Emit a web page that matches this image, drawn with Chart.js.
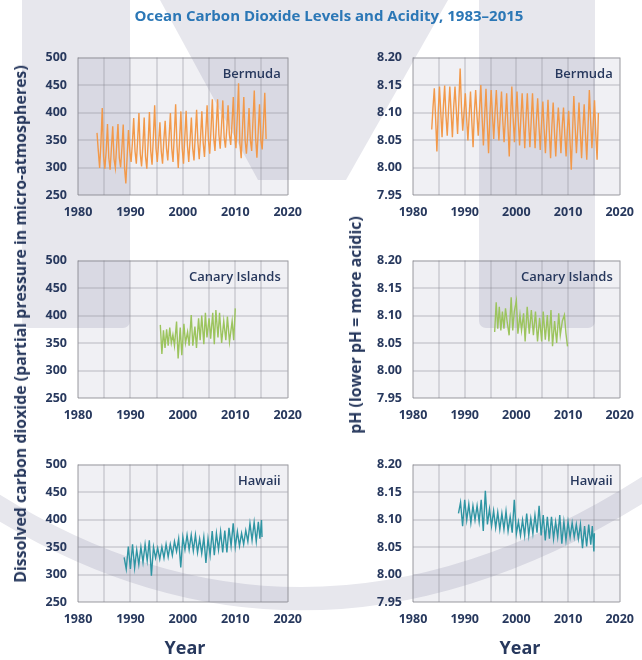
<!doctype html>
<html>

<head>
    <title>Ocean Carbon Dioxide Levels and Acidity, 1983–2015</title>
    <script src="https://cdn.jsdelivr.net/npm/chart.js"></script>
    <style>
        body { margin: 0; width: 642px; height: 660px; position: relative; overflow: hidden; background: #fff; font-family: "Open Sans", sans-serif; }
        canvas { position: absolute; }
        .txt { position: absolute; color: #27385d; font-weight: 700; white-space: nowrap; transform: translate(-50%, -50%); }
        .vert { transform: translate(-50%, -50%) rotate(-90deg); }
    </style>
</head>

<body>
    <canvas id="marca" width="642" height="660" style="left:0; top:0"></canvas>

    <div class="txt" style="left:329px; top:15px; color:#2b77b6; font-size:15px">Ocean Carbon Dioxide Levels and Acidity, 1983–2015</div>
    <div class="txt vert" style="left:20px; top:324px; font-size:15.9px">Dissolved carbon dioxide (partial pressure in micro-atmospheres)</div>
    <div class="txt vert" style="left:355px; top:325px; font-size:15.9px">pH (lower pH = more acidic)</div>
    <div class="txt" style="left:185px; top:647px; font-size:18px">Year</div>
    <div class="txt" style="left:520px; top:647px; font-size:18px">Year</div>

    <script>
        // ticks
        var xTicks = [1980, 1990, 2000, 2010, 2020];
        var co2Ticks = [250, 300, 350, 400, 450, 500];
        var phTicks = ['7.95', '8.00', '8.05', '8.10', '8.15', '8.20'];

        // Bermuda: quarterly samples (Feb, May, Aug, Nov) from Aug 1983
        var bermudaStart = 1983.625;
        var bermudaCO2 = [
            363, 330,
            299, 345, 408, 320,  298, 330, 379, 318,  296, 335, 375, 315,  299, 340, 379, 318,
            300, 335, 378, 300,  271, 320, 368, 330,  310, 345, 390, 330,  307, 350, 399, 325,
            302, 340, 391, 320,  298, 345, 401, 330,  305, 355, 413, 335,  310, 345, 382, 330,
            307, 350, 385, 335,  313, 355, 399, 335,  310, 360, 415, 340,  299, 350, 402, 335,
            307, 355, 403, 340,  310, 350, 391, 335,  313, 360, 405, 345,  315, 355, 402, 345,
            319, 365, 413, 350,  325, 370, 424, 355,  330, 375, 424, 360,  334, 375, 422, 355,
            336, 370, 413, 360,  341, 380, 428, 360,  335, 390, 453, 345,  317, 370, 428, 350,
            325, 360, 408, 350,  330, 385, 440, 355,  318, 365, 415, 350,  333, 380, 436, 352
        ];
        var bermudaPH = [
            8.069, 8.110,
            8.144, 8.090, 8.029, 8.100,  8.147, 8.100, 8.055, 8.110,  8.149, 8.095, 8.058, 8.105,  8.147, 8.100, 8.055, 8.110,
            8.147, 8.105, 8.061, 8.120,  8.180, 8.110, 8.067, 8.100,  8.135, 8.090, 8.049, 8.095,  8.138, 8.085, 8.037, 8.100,
            8.141, 8.095, 8.058, 8.105,  8.150, 8.090, 8.040, 8.095,  8.143, 8.080, 8.026, 8.095,  8.141, 8.095, 8.052, 8.100,
            8.141, 8.090, 8.049, 8.095,  8.138, 8.085, 8.046, 8.090,  8.135, 8.075, 8.020, 8.090,  8.147, 8.090, 8.046, 8.095,
            8.138, 8.085, 8.040, 8.090,  8.135, 8.085, 8.035, 8.090,  8.135, 8.080, 8.037, 8.085,  8.135, 8.080, 8.035, 8.085,
            8.126, 8.075, 8.032, 8.080,  8.120, 8.070, 8.026, 8.075,  8.123, 8.065, 8.017, 8.075,  8.118, 8.065, 8.020, 8.070,
            8.109, 8.070, 8.026, 8.075,  8.109, 8.060, 8.020, 8.070,  8.103, 8.050, 7.996, 8.065,  8.130, 8.075, 8.026, 8.070,
            8.118, 8.065, 8.017, 8.070,  8.115, 8.060, 8.014, 8.075,  8.141, 8.085, 8.035, 8.080,  8.122, 8.060, 8.014, 8.099
        ];
        var bermudaYears = bermudaCO2.map((v, i) => bermudaStart + i * 0.25);

        // Canary Islands
        var canaryCO2Years = [1995.7, 1996.0, 1996.3, 1996.6, 1996.9, 1997.2, 1997.5, 1997.8, 1998.1, 1998.4, 1998.8, 1999.1, 1999.5, 1999.8,
            2000.2, 2000.5, 2000.9, 2001.2, 2001.6, 2001.9, 2002.3, 2002.6, 2003.0, 2003.3, 2003.6, 2004.0, 2004.3, 2004.6,
            2005.0, 2005.3, 2005.7, 2006.0, 2006.3, 2006.7, 2007.0, 2007.4, 2007.8, 2008.2, 2008.5, 2008.9, 2009.4, 2009.7, 2010.0];
        var canaryCO2 = [383, 330, 373, 341, 375, 345, 378, 350, 365, 345, 389, 322, 378, 328,
            385, 350, 370, 345, 401, 345, 380, 341, 395, 355, 400, 348, 405, 360,
            395, 358, 405, 348, 410, 360, 405, 350, 390, 355, 398, 352, 390, 355, 413];
        var canaryPHYears = [1995.8, 1996.1, 1996.4, 1996.7, 1997.0, 1997.3, 1997.6, 1997.9, 1998.2, 1998.6, 1999.0, 1999.3, 1999.6,
            2000.0, 2000.3, 2000.7, 2001.0, 2001.4, 2001.7, 2002.1, 2002.5, 2002.9, 2003.3, 2003.7, 2004.1, 2004.5, 2004.9,
            2005.2, 2005.6, 2006.0, 2006.3, 2006.7, 2007.0, 2007.4, 2007.8, 2008.2, 2008.5, 2008.9, 2009.3, 2009.6, 2009.9];
        var canaryPH = [8.070, 8.124, 8.076, 8.116, 8.073, 8.107, 8.076, 8.113, 8.090, 8.064, 8.133, 8.073, 8.107,
            8.127, 8.067, 8.101, 8.073, 8.104, 8.053, 8.116, 8.067, 8.110, 8.064, 8.107, 8.053, 8.096, 8.053,
            8.107, 8.056, 8.101, 8.053, 8.110, 8.044, 8.090, 8.050, 8.104, 8.064, 8.090, 8.101, 8.067, 8.044];

        // Hawaii
        var hawaiiYears = [1988.8, 1989.2, 1989.6, 1990.0, 1990.4, 1990.8, 1991.2, 1991.6, 1992.0, 1992.4, 1992.8, 1993.2, 1993.6,
            1994.0, 1994.4, 1994.8, 1995.2, 1995.6, 1996.0, 1996.4, 1996.8, 1997.2, 1997.6, 1998.0, 1998.4, 1998.8,
            1999.2, 1999.6, 2000.0, 2000.4, 2000.8, 2001.2, 2001.6, 2002.0, 2002.4, 2002.8, 2003.2, 2003.6, 2004.0,
            2004.4, 2004.8, 2005.2, 2005.6, 2006.0, 2006.4, 2006.8, 2007.2, 2007.6, 2008.0, 2008.4, 2008.8, 2009.2,
            2009.6, 2010.0, 2010.4, 2010.8, 2011.2, 2011.6, 2012.0, 2012.4, 2012.8, 2013.2, 2013.6, 2014.0, 2014.4,
            2014.7, 2015.0, 2015.1];
        var hawaiiCO2 = [331, 310, 351, 310, 355, 312, 345, 318, 350, 322, 355, 325, 362,
            298, 350, 330, 348, 328, 350, 330, 355, 332, 355, 335, 360, 342,
            365, 313, 368, 345, 372, 345, 372, 343, 372, 340, 365, 338, 368,
            321, 365, 335, 379, 335, 375, 345, 378, 340, 380, 340, 385, 352,
            393, 350, 378, 352, 375, 355, 380, 360, 393, 362, 395, 360, 396,
            365, 399, 368];
        var hawaiiPH = [8.111, 8.131, 8.088, 8.136, 8.099, 8.128, 8.094, 8.125, 8.099, 8.125, 8.096, 8.136, 8.079,
            8.152, 8.091, 8.119, 8.088, 8.116, 8.085, 8.113, 8.082, 8.111, 8.082, 8.115, 8.079, 8.105,
            8.076, 8.136, 8.074, 8.096, 8.071, 8.099, 8.071, 8.111, 8.071, 8.102, 8.074, 8.108, 8.076,
            8.125, 8.071, 8.108, 8.062, 8.105, 8.065, 8.105, 8.065, 8.096, 8.068, 8.108, 8.056, 8.096,
            8.062, 8.096, 8.068, 8.094, 8.068, 8.091, 8.065, 8.091, 8.048, 8.088, 8.051, 8.091, 8.054,
            8.088, 8.042, 8.075];

        // watermark behind everything
        var g = document.getElementById('marca').getContext('2d');
        g.fillStyle = '#e7e7ed';
        g.beginPath(); g.roundRect(22, -10, 108, 338, 7); g.fill();
        g.beginPath(); g.roundRect(479, -10, 116, 338, 7); g.fill();
        g.beginPath();
        g.moveTo(160, 0); g.lineTo(448, 0); g.lineTo(346, 180); g.lineTo(258, 180);
        g.closePath(); g.fill();
        g.strokeStyle = '#e7e7ed';
        g.lineWidth = 23;
        g.beginPath(); g.moveTo(-10, 502); g.quadraticCurveTo(310, 704, 652, 484); g.stroke();

        var navy = '#27385d';
        Chart.defaults.font.family = '"Open Sans", sans-serif';

        var painelPlugin = {
            id: 'painel',
            beforeDraw(chart) {
                var a = chart.chartArea, ctx = chart.ctx;
                ctx.save();
                ctx.fillStyle = 'rgba(70,60,120,0.08)';
                ctx.fillRect(a.left, a.top, a.width, a.height);
                ctx.restore();
            },
            afterDraw(chart) {
                var a = chart.chartArea, ctx = chart.ctx;
                ctx.save();
                ctx.font = '600 13px "Open Sans"';
                ctx.fillStyle = navy;
                ctx.textAlign = 'right';
                ctx.fillText(chart.options.plugins.painel.local, a.right - 7, a.top + 20);
                ctx.restore();
            }
        };

        function grade(c) {
            var last = c.scale.ticks.length - 1;
            return (c.index === 0 || c.index === last) ? 'rgba(120,120,130,0.38)' : 'rgba(140,140,150,0.28)';
        }

        function painel(left, plotTop, yw, padRight, tipo, anos, valores, cor, local) {
            var cv = document.createElement('canvas');
            var w = yw + 215 + padRight, h = 10 + 146 + 34;
            cv.width = w; cv.height = h;
            cv.style.left = left + 'px';
            cv.style.top = (plotTop - 10) + 'px';
            document.body.appendChild(cv);

            var co2 = tipo === 'co2';
            new Chart(cv.getContext('2d'), {
                type: 'line',
                data: {
                    datasets: [{
                        data: anos.map((x, i) => ({ x: x, y: valores[i] })),
                        borderColor: cor,
                        borderWidth: 1.4,
                        pointRadius: 0,
                        tension: 0
                    }]
                },
                plugins: [painelPlugin],
                options: {
                    responsive: false,
                    animation: false,
                    layout: { padding: { top: 10, right: padRight, left: 0, bottom: 0 } },
                    plugins: { legend: { display: false }, tooltip: { enabled: false }, painel: { local: local } },
                    scales: {
                        x: {
                            type: 'linear', min: 1980, max: 2020,
                            afterFit: s => { s.height = 34; },
                            border: { display: false },
                            grid: { drawTicks: false, lineWidth: 2, color: grade },
                            ticks: {
                                stepSize: 5, autoSkip: false, maxRotation: 0, padding: 10,
                                color: navy, font: { size: 12.5, weight: 'bold' },
                                callback: v => xTicks.includes(v) ? String(v) : ''
                            }
                        },
                        y: {
                            min: co2 ? 250 : 7.95, max: co2 ? 500 : 8.20,
                            afterFit: s => { s.width = yw; },
                            border: { display: false },
                            grid: { drawTicks: false, lineWidth: 2, color: grade },
                            ticks: {
                                stepSize: co2 ? 50 : 0.05, padding: 11,
                                color: navy, font: { size: 12.5, weight: 'bold' },
                                callback: v => {
                                    if (co2) return co2Ticks.includes(v) ? String(v) : '';
                                    var t = v.toFixed(2);
                                    return phTicks.includes(t) ? t : '';
                                }
                            }
                        }
                    }
                }
            });
        }

        painel(0, 49, 78, 19, 'co2', bermudaYears, bermudaCO2, '#f2994a', 'Bermuda');
        painel(321, 49, 92, 16, 'ph', bermudaYears, bermudaPH, '#f2994a', 'Bermuda');
        painel(0, 252, 78, 19, 'co2', canaryCO2Years, canaryCO2, '#9cc45e', 'Canary Islands');
        painel(321, 252, 92, 16, 'ph', canaryPHYears, canaryPH, '#9cc45e', 'Canary Islands');
        painel(0, 456, 78, 19, 'co2', hawaiiYears, hawaiiCO2, '#2f95a3', 'Hawaii');
        painel(321, 456, 92, 16, 'ph', hawaiiYears, hawaiiPH, '#2f95a3', 'Hawaii');
    </script>
</body>

</html>
